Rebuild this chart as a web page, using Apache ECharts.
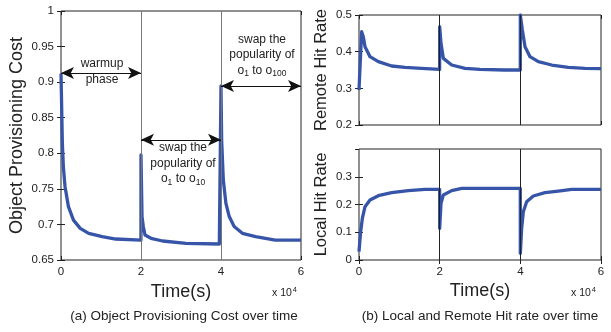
<!DOCTYPE html>
<html>
<head>
<meta charset="utf-8">
<script src="https://cdn.jsdelivr.net/npm/echarts@6/dist/echarts.min.js"></script>
<style>
  html, body { margin: 0; padding: 0; background: #fff; }
  #chart { width: 611px; height: 332px; }
</style>
</head>
<body>
<div id="chart"></div>
<script>
// (a) object provisioning cost
const costX = [0, 150, 340, 590, 1010, 1860, 3120, 4810, 6920, 10300, 13670, 19990,
  20000, 20000, 20250, 20580, 21000, 22500, 25400, 31250, 39580, 39990,
  40000, 40000, 40160, 40580, 41230, 42060, 43290, 45350, 48640, 53580, 60000]
const costY = [0.912, 0.87, 0.814, 0.781, 0.753, 0.725, 0.706, 0.6945, 0.6875, 0.6828, 0.6795, 0.678,
  0.678, 0.7976, 0.711, 0.697, 0.6851, 0.6805, 0.6767, 0.6735, 0.6725, 0.6725,
  0.6725, 0.8946, 0.8187, 0.7624, 0.7296, 0.711, 0.697, 0.6875, 0.6828, 0.678, 0.678]

// (b) remote hit rate
const remoteX = [0, 330, 660, 1070, 1490, 2730, 4790, 8100, 11400, 15500, 19990,
  20000, 20000, 20330, 20910, 22980, 26280, 30000, 36000, 39990,
  40000, 40000, 40500, 41160, 42400, 44460, 47770, 51900, 56030, 60000]
const remoteY = [0.2955, 0.377, 0.4545, 0.4409, 0.4136, 0.3864, 0.3727, 0.3609, 0.3573, 0.3545, 0.3518,
  0.3518, 0.468, 0.4227, 0.3818, 0.3636, 0.3545, 0.3518, 0.350, 0.350,
  0.350, 0.50, 0.459, 0.4136, 0.3864, 0.3727, 0.3636, 0.3573, 0.3545, 0.354]

// (b) local hit rate
const localX = [0, 410, 830, 1490, 2730, 4790, 8100, 12230, 16360, 19990,
  20000, 20330, 20910, 22980, 25450, 30000, 39990,
  40000, 40330, 40740, 41570, 43220, 46110, 49420, 52730, 60000]
const localY = [0.030, 0.102, 0.150, 0.192, 0.216, 0.2317, 0.2425, 0.2497, 0.2548, 0.2548,
  0.114, 0.204, 0.234, 0.250, 0.258, 0.258, 0.258,
  0.024, 0.114, 0.174, 0.210, 0.2306, 0.2425, 0.2486, 0.2548, 0.2548]

const phaseBounds = [20000, 40000]

const FONT = 'Liberation Sans, Arial, sans-serif'
const BLUE = '#3755a8'
const pair = (xs, ys) => xs.map((x, i) => [x, ys[i]])

const chartDom = document.getElementById('chart')
const chart = echarts.init(chartDom, null, { renderer: 'canvas' })

const grids = [
  { left: 61, top: 11, width: 240, height: 249 },
  { left: 359, top: 15, width: 242, height: 110 },
  { left: 359, top: 149, width: 242, height: 111 },
].map(g => ({ ...g, show: true, borderColor: '#222', borderWidth: 1, backgroundColor: '#fff' }))

const tickStyle = { inside: true, length: 4, lineStyle: { color: '#222' } }
const labelStyle = { color: '#222', fontSize: 11.5, fontFamily: FONT }
const nameStyle = { color: '#222', fontSize: 18, fontFamily: FONT }

const xAxisFor = (gi, showLabels) => ({
  type: 'value', gridIndex: gi, min: 0, max: 60000, interval: 20000,
  axisLine: { show: false }, splitLine: { show: false },
  axisTick: tickStyle,
  axisLabel: { show: showLabels, ...labelStyle, margin: 6, formatter: v => String(v / 10000) },
  name: showLabels ? 'Time(s)' : '', nameLocation: 'middle', nameGap: 22, nameTextStyle: nameStyle,
})
const xTopFor = gi => ({
  type: 'value', gridIndex: gi, position: 'top', min: 0, max: 60000, interval: 20000,
  axisLine: { show: false }, splitLine: { show: false }, axisTick: tickStyle, axisLabel: { show: false },
})
const yAxisFor = (gi, min, max, interval, name, gap, fs, fmt) => ({
  type: 'value', gridIndex: gi, min, max, interval,
  axisLine: { show: false }, splitLine: { show: false }, axisTick: tickStyle,
  axisLabel: { ...labelStyle, margin: 7, showMaxLabel: gi !== 2, formatter: fmt },
  name, nameLocation: 'middle', nameRotate: 90, nameGap: gap, nameTextStyle: { ...nameStyle, fontSize: fs },
})
const yRightFor = (gi, min, max, interval) => ({
  type: 'value', gridIndex: gi, position: 'right', min, max, interval,
  axisLine: { show: false }, splitLine: { show: false }, axisTick: tickStyle, axisLabel: { show: false },
})

const fmt2 = v => String(+v.toFixed(2))

const vLines = (xi, yi, color) => ({
  type: 'line', xAxisIndex: xi, yAxisIndex: yi, data: [], z: 1, silent: true,
  markLine: {
    symbol: 'none', silent: true, animation: false, label: { show: false },
    lineStyle: { color, width: 1, type: 'solid' },
    data: phaseBounds.map(x => ({ xAxis: x })),
  },
})

const curve = (xi, yi, data) => ({
  type: 'line', xAxisIndex: xi, yAxisIndex: yi, data, z: 3,
  showSymbol: false, symbol: 'none', animation: false,
  lineStyle: { color: BLUE, width: 3.3, join: 'round' },
})

const arrowPair = (x0, x1, y) => [{ coord: [x0, y] }, { coord: [x1, y] }]
const arrows = {
  type: 'line', xAxisIndex: 0, yAxisIndex: 0, data: [], z: 4, silent: true,
  markLine: {
    symbol: ['arrow', 'arrow'], symbolSize: [9, 13], silent: true, animation: false,
    label: { show: false },
    lineStyle: { color: '#111', width: 1.2, type: 'solid' },
    data: [arrowPair(0, 20000, 0.913), arrowPair(20000, 40000, 0.819), arrowPair(40000, 60000, 0.8946)],
  },
}

const noteRich = {
  t: { fontSize: 12, fontFamily: FONT, color: '#222', lineHeight: 15.5 },
  s: { fontSize: 8.5, fontFamily: FONT, color: '#222', lineHeight: 15.5, verticalAlign: 'bottom', padding: [6, 0, 0, 0] },
}
const note = (x, y, text) => ({
  coord: [x, y], symbol: 'circle', symbolSize: 0,
  label: { show: true, position: 'inside', align: 'center', verticalAlign: 'middle', formatter: text, rich: noteRich },
})
const notes = {
  type: 'line', xAxisIndex: 0, yAxisIndex: 0, data: [], z: 5, silent: true,
  markPoint: {
    silent: true, animation: false,
    data: [
      note(10250, 0.9145, '{t|warmup}\n{t|phase}'),
      note(30500, 0.7856, '{t|swap the}\n{t|popularity of}\n{t|o}{s|1}{t| to o}{s|10}'),
      note(50250, 0.938, '{t|swap the}\n{t|popularity of}\n{t|o}{s|1}{t| to o}{s|100}'),
    ],
  },
}

const sup = { p: { fontSize: 7.5, verticalAlign: 'top', padding: [0, 0, 6, 1] } }

const option = {
  backgroundColor: '#fff',
  animation: false,
  grid: grids,
  xAxis: [xAxisFor(0, true), xAxisFor(1, false), xAxisFor(2, true), xTopFor(0), xTopFor(1), xTopFor(2)],
  yAxis: [
    yAxisFor(0, 0.65, 1, 0.05, 'Object Provisioning Cost', 35, 18, fmt2),
    yAxisFor(1, 0.2, 0.5, 0.1, 'Remote Hit Rate', 29, 16.5, fmt2),
    yAxisFor(2, 0, 0.4, 0.1, 'Local Hit Rate', 29, 16.5, fmt2),
    yRightFor(0, 0.65, 1, 0.05), yRightFor(1, 0.2, 0.5, 0.1), yRightFor(2, 0, 0.4, 0.1),
  ],
  graphic: [
    { type: 'text', left: 272, top: 286, style: { text: 'x 10{p|4}', rich: sup, fontSize: 10.5, fontFamily: FONT, fill: '#222' } },
    { type: 'text', left: 571, top: 286, style: { text: 'x 10{p|4}', rich: sup, fontSize: 10.5, fontFamily: FONT, fill: '#222' } },
    { type: 'text', x: 184, y: 316, style: { text: '(a) Object Provisioning Cost over time', fontSize: 13.5, fontFamily: FONT, fill: '#222', align: 'center', verticalAlign: 'middle' } },
    { type: 'text', x: 480, y: 316, style: { text: '(b) Local and Remote Hit rate over time', fontSize: 13.5, fontFamily: FONT, fill: '#222', align: 'center', verticalAlign: 'middle' } },
  ],
  series: [
    vLines(0, 0, '#777'),
    vLines(1, 1, '#222'),
    vLines(2, 2, '#222'),
    curve(0, 0, pair(costX, costY)),
    curve(1, 1, pair(remoteX, remoteY)),
    curve(2, 2, pair(localX, localY)),
    arrows,
    notes,
  ],
}

chart.setOption(option)
</script>
</body>
</html>
